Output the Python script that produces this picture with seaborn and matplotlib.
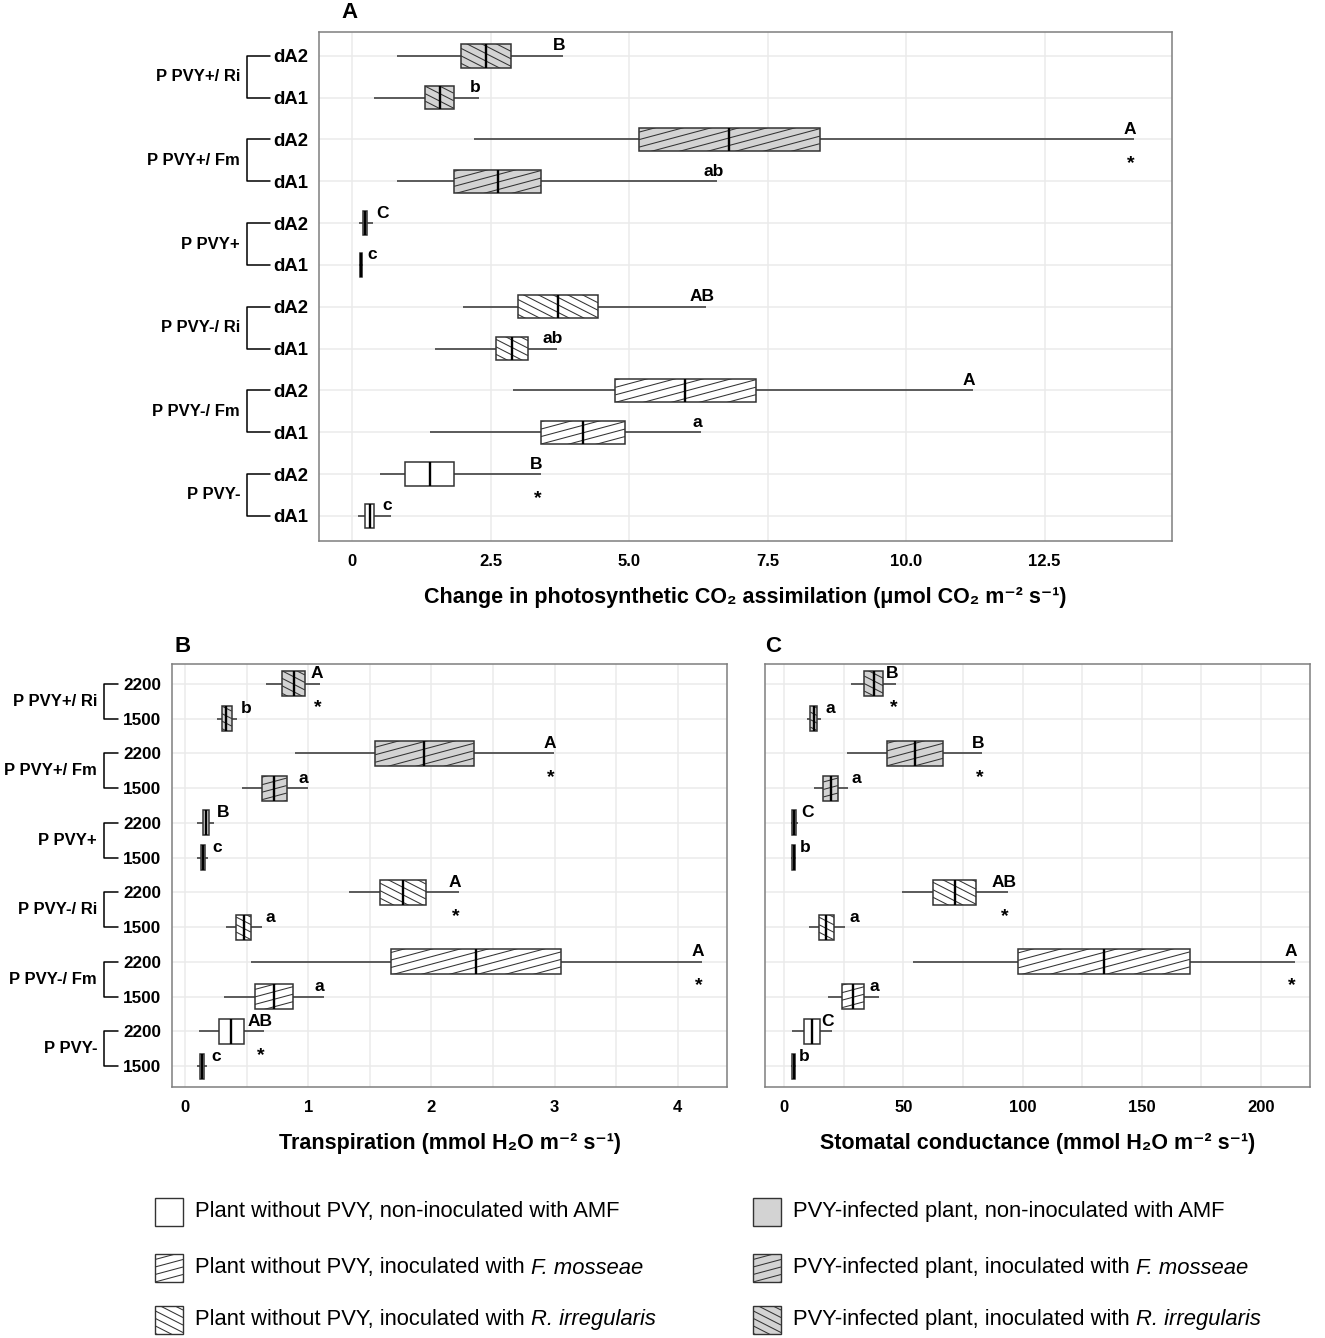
import numpy as np
import pandas as pd
import matplotlib
matplotlib.use("Agg")
import matplotlib.pyplot as plt
import seaborn as sns
from matplotlib.collections import LineCollection
from matplotlib.transforms import IdentityTransform
from matplotlib.patches import Rectangle

# groups (top -> bottom), two time points each
groups = ["P PVY+/ Ri", "P PVY+/ Fm", "P PVY+", "P PVY-/ Ri", "P PVY-/ Fm", "P PVY-"]
times_a = ["dA2", "dA1"]
times_bc = ["2200", "1500"]
fills = {"P PVY+/ Ri": "#d3d3d3", "P PVY+/ Fm": "#d3d3d3", "P PVY+": "#d3d3d3",
         "P PVY-/ Ri": "white", "P PVY-/ Fm": "white", "P PVY-": "white"}
stripe_kind = {"P PVY+/ Ri": "Ri", "P PVY+/ Fm": "Fm", "P PVY+": None,
               "P PVY-/ Ri": "Ri", "P PVY-/ Fm": "Fm", "P PVY-": None}

# A: change in CO2 assimilation
a_min = [0.80, 0.40, 2.20, 0.80, 0.12, 0.13, 2.00, 1.50, 2.90, 1.40, 0.50, 0.10]
a_q1 = [1.96, 1.32, 5.18, 1.84, 0.20, 0.14, 2.99, 2.59, 4.75, 3.40, 0.96, 0.23]
a_med = [2.42, 1.58, 6.81, 2.63, 0.23, 0.15, 3.72, 2.89, 6.01, 4.16, 1.40, 0.32]
a_q3 = [2.87, 1.83, 8.44, 3.41, 0.27, 0.17, 4.44, 3.17, 7.29, 4.93, 1.83, 0.39]
a_max = [3.80, 2.29, 14.11, 6.59, 0.38, 0.19, 6.39, 3.70, 11.21, 6.30, 3.40, 0.70]
a_letters = ["B", "b", "A", "ab", "C", "c", "AB", "ab", "A", "a", "B", "c"]
a_star = [0, 0, 1, 0, 0, 0, 0, 0, 0, 0, 1, 0]

# B: transpiration
b_min = [0.655, 0.257, 0.894, 0.46, 0.10, 0.10, 1.328, 0.336, 0.535, 0.318, 0.116, 0.10]
b_q1 = [0.785, 0.30, 1.545, 0.622, 0.145, 0.127, 1.585, 0.416, 1.671, 0.568, 0.275, 0.12]
b_med = [0.886, 0.336, 1.943, 0.727, 0.17, 0.145, 1.773, 0.478, 2.366, 0.72, 0.376, 0.137]
b_q3 = [0.973, 0.38, 2.344, 0.825, 0.195, 0.163, 1.957, 0.535, 3.054, 0.879, 0.478, 0.156]
b_max = [1.10, 0.423, 2.996, 0.995, 0.235, 0.188, 2.225, 0.622, 4.195, 1.125, 0.64, 0.18]
b_letters = ["A", "b", "A", "a", "B", "c", "A", "a", "A", "a", "AB", "c"]
b_star = [1, 0, 1, 0, 0, 0, 1, 0, 1, 0, 1, 0]

# C: stomatal conductance
c_min = [28.0, 9.7, 26.4, 12.7, 2.7, 3.0, 49.4, 10.5, 53.9, 18.4, 3.2, 3.0]
c_q1 = [33.6, 11.0, 43.2, 16.5, 3.5, 3.5, 62.3, 14.7, 98.2, 24.2, 8.3, 3.5]
c_med = [37.7, 12.4, 54.8, 19.7, 4.2, 4.0, 71.5, 17.7, 134.1, 29.0, 11.7, 4.0]
c_q3 = [41.6, 13.9, 66.6, 22.5, 5.2, 4.7, 80.6, 21.0, 170.1, 33.7, 14.9, 4.5]
c_max = [47.1, 15.5, 83.1, 26.7, 6.0, 5.2, 93.7, 25.5, 214.2, 39.6, 20.0, 4.8]
c_letters = ["B", "a", "B", "a", "C", "b", "AB", "a", "A", "a", "C", "b"]
c_star = [1, 0, 1, 0, 0, 0, 1, 0, 1, 0, 0, 0]

# legend entries: (plain part, italic part)
legend_left = [("Plant without PVY, non-inoculated with AMF", ""),
               ("Plant without PVY, inoculated with", "F. mosseae"),
               ("Plant without PVY, inoculated with", "R. irregularis")]
legend_right = [("PVY-infected plant, non-inoculated with AMF", ""),
                ("PVY-infected plant, inoculated with", "F. mosseae"),
                ("PVY-infected plant, inoculated with", "R. irregularis")]
legend_kinds = [None, "Fm", "Ri"]

sns.set_style("white")
plt.rcParams["font.family"] = ["Liberation Sans", "DejaVu Sans"]
for k in ["text.color", "axes.labelcolor", "xtick.color", "ytick.color"]:
    plt.rcParams[k] = "black"

EDGE = "#333333"


def long_frame(mins, q1, med, q3, mx, times):
    rows = []
    for i in range(12):
        g = groups[i // 2]
        for v in (mins[i], q1[i], med[i], q3[i], mx[i]):
            rows.append({"row": f"{g} {times[i % 2]}", "group": g, "value": v})
    return pd.DataFrame(rows)


def add_stripes(patch, kind, container, zorder):
    bb = patch.get_window_extent()
    w = bb.width
    slope = np.tan(np.radians(15 if kind == "Fm" else -27))
    gap = 7.5
    segs = []
    for c in np.arange(-abs(slope) * w - gap, bb.height + abs(slope) * w + gap, gap):
        segs.append([(bb.x0, bb.y0 + c), (bb.x1, bb.y0 + c + slope * w)])
    lc = LineCollection(segs, colors=EDGE, linewidths=0.75,
                        transform=IdentityTransform(), zorder=zorder)
    if hasattr(container, "add_collection"):
        container.add_collection(lc, autolim=False)
    else:
        container.add_artist(lc)
    lc.set_clip_path(patch)


def draw_panel(ax, mins, q1, med, q3, mx, times, width, xlim, xticks, xticklabels,
               minor, letters, stars, xlabel, ylab_size, bracket):
    df = long_frame(mins, q1, med, q3, mx, times)
    order = [f"{groups[i // 2]} {times[i % 2]}" for i in range(12)]
    sns.boxplot(data=df, x="value", y="row", hue="group", order=order,
                hue_order=groups, palette=fills, dodge=False, width=width,
                whis=(0, 100), showcaps=False, linecolor=EDGE, linewidth=1.1,
                saturation=1, legend=False, ax=ax,
                medianprops={"color": "black", "linewidth": 1.7})
    ax.set_xlim(*xlim)
    ax.set_ylim(11.6, -0.57)
    ax.set_xticks(xticks)
    ax.set_xticklabels(xticklabels, fontsize=12, fontweight="bold")
    if minor is not None:
        ax.set_xticks(minor, minor=True)
        ax.grid(which="minor", axis="x", color="#ebebeb", lw=1.1)
    ax.tick_params(which="minor", length=0)
    ax.grid(which="major", axis="both", color="#ebebeb", lw=1.1)
    ax.set_axisbelow(True)
    ax.set_yticks(range(12))
    if ylab_size:
        ax.set_yticklabels(times * 6, fontsize=ylab_size, fontweight="bold")
    else:
        ax.set_yticklabels([])
    ax.set_ylabel("")
    ax.tick_params(axis="y", length=6, width=1.1, color=EDGE, pad=2)
    ax.tick_params(axis="x", length=5, width=1.1, color=EDGE, pad=4)
    for s in ax.spines.values():
        s.set_visible(True)
        s.set_color("#7f7f7f")
        s.set_linewidth(1.1)
    ax.set_xlabel(xlabel, fontsize=15.5, fontweight="bold", labelpad=13)

    # significance letters and asterisks
    for i in range(12):
        px_mx = ax.transData.transform((mx[i], i))[0]
        px_q3 = ax.transData.transform((q3[i], i))[0]
        dx = -4 if px_mx - px_q3 > 12 else 9
        ax.annotate(letters[i], (mx[i], i), xytext=(dx * 0.72, 10 * 0.72),
                    textcoords="offset points", ha="center", va="center",
                    fontsize=12.5, fontweight="bold")
        if stars[i]:
            ax.annotate("*", (mx[i], i), xytext=(-3 * 0.72, -24 * 0.72),
                        textcoords="offset points", ha="center", va="center",
                        fontsize=14, fontweight="bold")

    # group brackets
    if bracket is not None:
        xv, xa, xl = bracket
        tr = ax.get_yaxis_transform()
        for g in range(6):
            y0, y1 = 2 * g, 2 * g + 1
            ax.plot([xa, xv, xv, xa], [y0, y0, y1, y1], transform=tr,
                    clip_on=False, color="black", lw=1.1)
            ax.text(xl, (y0 + y1) / 2, groups[g], transform=tr, ha="right",
                    va="center", fontsize=12, fontweight="bold")


fig = plt.figure(figsize=(13.25, 13.38), dpi=100)
W, H = 1325, 1338
axA = fig.add_axes([319 / W, 1 - 541 / H, 853 / W, 509 / H])
axB = fig.add_axes([172 / W, 1 - 1087 / H, 555 / W, 423 / H])
axC = fig.add_axes([765 / W, 1 - 1087 / H, 545 / W, 423 / H])

draw_panel(axA, a_min, a_q1, a_med, a_q3, a_max, times_a, 0.56, (-0.6, 14.8),
           [0, 2.5, 5, 7.5, 10, 12.5], ["0", "2.5", "5.0", "7.5", "10.0", "12.5"],
           None, a_letters, a_star,
           "Change in photosynthetic CO₂ assimilation (μmol CO₂ m⁻² s⁻¹)",
           13.3, (-0.0844, -0.0574, -0.0926))
draw_panel(axB, b_min, b_q1, b_med, b_q3, b_max, times_bc, 0.72, (-0.105, 4.40),
           [0, 1, 2, 3, 4], ["0", "1", "2", "3", "4"],
           [0.5, 1.5, 2.5, 3.5], b_letters, b_star,
           "Transpiration (mmol H₂O m⁻² s⁻¹)",
           12.3, (-0.1225, -0.0973, -0.1351))
draw_panel(axC, c_min, c_q1, c_med, c_q3, c_max, times_bc, 0.72, (-8, 220.5),
           [0, 50, 100, 150, 200], ["0", "50", "100", "150", "200"],
           [25, 75, 125, 175], c_letters, c_star,
           "Stomatal conductance (mmol H₂O m⁻² s⁻¹)",
           None, None)

for lab, (x, y) in zip("ABC", [(350, 13), (183, 647), (773, 647)]):
    fig.text(x / W, 1 - y / H, lab, ha="center", va="center", fontsize=16,
             fontweight="bold")

# legend, drawn as patches + texts in two columns
LEG_FS = 15.8
legend_patches = []
legend_texts = []
for entries, fc, x0 in [(legend_left, "white", 155), (legend_right, "#d3d3d3", 753)]:
    for j, ((plain, ital), kind) in enumerate(zip(entries, legend_kinds)):
        yc = [1212, 1268, 1320][j]
        rect = Rectangle((x0 / W, 1 - (yc + 14) / H), 28 / W, 28 / H,
                         transform=fig.transFigure, facecolor=fc,
                         edgecolor=EDGE, linewidth=1.0, zorder=5)
        fig.add_artist(rect)
        legend_patches.append((rect, kind))
        t = fig.text((x0 + 40) / W, 1 - yc / H, plain, ha="left", va="center",
                     fontsize=LEG_FS)
        legend_texts.append((t, ital, yc))

fig.canvas.draw()

# italic species names right after the plain part
for t, ital, yc in legend_texts:
    if ital:
        x1 = t.get_window_extent().x1 + 0.278 * LEG_FS * 100 / 72
        fig.text(x1 / W, 1 - yc / H, ital, ha="left", va="center",
                 fontsize=LEG_FS, fontstyle="italic")

for ax in (axA, axB, axC):
    for p in list(ax.patches):
        v = p.get_path().vertices
        row = int(round((v[:, 1].min() + v[:, 1].max()) / 2))
        kind = stripe_kind[groups[row // 2]]
        if kind:
            add_stripes(p, kind, ax, 2.05)

for rect, kind in legend_patches:
    if kind:
        add_stripes(rect, kind, fig, 6)

fig.savefig("out.png", dpi=100)
